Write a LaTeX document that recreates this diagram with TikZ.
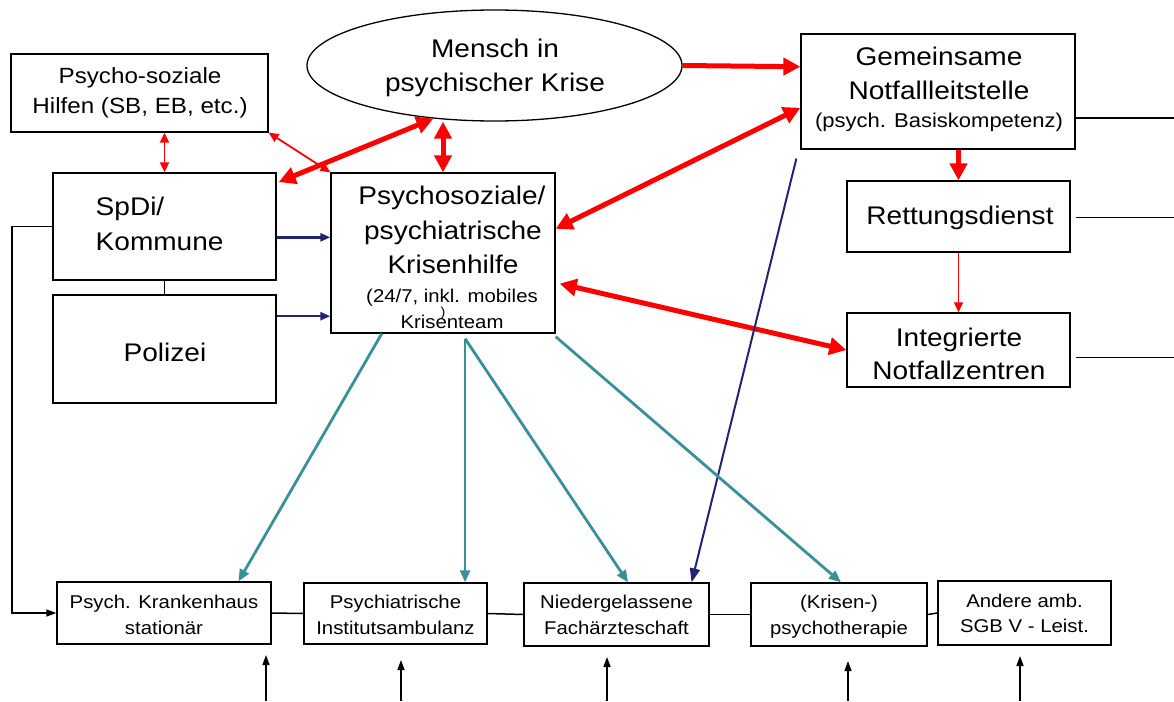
\documentclass[tikz,border=0pt]{standalone}
\usepackage{fontspec}
\setmainfont{Liberation Sans}[FakeStretch=1.1]
\usetikzlibrary{arrows.meta,calc,shapes.geometric}
\definecolor{navyc}{RGB}{35,35,115}
\definecolor{tealc}{RGB}{55,145,150}
\definecolor{redc}{RGB}{255,0,0}
\begin{document}
\begin{tikzpicture}[x=1pt,y=-1pt,
  box/.style={draw=black, line width=1.3pt, rectangle, inner sep=0pt},
  bigtxt/.style={font=\fontsize{25.5}{30}\selectfont, anchor=base, inner sep=0pt},
  midtxt/.style={font=\fontsize{22}{26}\selectfont, anchor=base, inner sep=0pt},
  smalltxt/.style={font=\fontsize{20}{24}\selectfont, anchor=base, inner sep=0pt},
  krtxt/.style={font=\fontsize{18.5}{22}\selectfont, anchor=base, inner sep=0pt},
  bottxt/.style={font=\fontsize{18.5}{22}\selectfont, anchor=base, inner sep=0pt},
  redthick/.style={draw=redc, line width=5pt, arrows={-Triangle[length=17pt,width=17pt]}},
  redthickdbl/.style={draw=redc, line width=5pt, arrows={Triangle[length=17pt,width=17pt]-Triangle[length=17pt,width=17pt]}},
  redthin/.style={draw=redc, line width=1.8pt, arrows={-Triangle[length=10pt,width=9pt]}},
  redthindbl/.style={draw=redc, line width=1.8pt, arrows={Triangle[length=10pt,width=9pt]-Triangle[length=10pt,width=9pt]}},
  navyarr/.style={draw=navyc, line width=2.4pt, arrows={-Triangle[length=10pt,width=8pt]}},
  navylong/.style={draw=navyc, line width=2pt, arrows={-Triangle[length=14pt,width=10pt]}},
  tealarr/.style={draw=tealc, line width=2.8pt, arrows={-Triangle[length=12pt,width=10pt]}},
  blk/.style={draw=black, line width=1.5pt},
  blkarr/.style={draw=black, line width=1.5pt, arrows={-Triangle[length=10pt,width=7pt]}}
]
\useasboundingbox (0,0) rectangle (1174,701);

% ---------- boxes ----------
\node[box, minimum width=257pt, minimum height=78pt] (hilfen) at (139.5,93) {};
\node[draw=black, line width=1.3pt, ellipse, inner sep=0pt, minimum width=375pt, minimum height=111pt] (mensch) at (494.5,65.5) {};
\node[box, minimum width=274pt, minimum height=115pt] (leit) at (938,91.5) {};
\node[box, minimum width=223pt, minimum height=71pt] (rett) at (958.5,216.5) {};
\node[box, minimum width=223pt, minimum height=74pt] (integ) at (958.5,350) {};
\node[box, minimum width=223pt, minimum height=107pt] (spdi) at (164.5,226.5) {};
\node[box, minimum width=223pt, minimum height=108pt] (polizei) at (164.5,349) {};
\node[box, minimum width=224pt, minimum height=160pt] (krise) at (443,253) {};
\node[box, minimum width=214pt, minimum height=62pt] (b1) at (164,613) {};
\node[box, minimum width=183pt, minimum height=61pt] (b2) at (395.5,613.5) {};
\node[box, minimum width=185pt, minimum height=63pt] (b3) at (616.5,614.5) {};
\node[box, minimum width=176pt, minimum height=63pt] (b4) at (839,614.5) {};
\node[box, minimum width=173pt, minimum height=64pt] (b5) at (1024.5,613) {};

% ---------- texts ----------
\node[midtxt] (th1) at (140,83) {Psycho-soziale};
\node[midtxt] (th2) at (140,113) {Hilfen (SB, EB, etc.)};
\node[bigtxt] (tm1) at (495,58) {Mensch in};
\node[bigtxt] (tm2) at (495,91) {psychischer Krise};
\node[bigtxt] (tl1) at (939,65) {Gemeinsame};
\node[bigtxt] (tl2) at (939,99) {Notfallleitstelle};
\node[smalltxt] (tl3) at (939,127) {(psych. Basiskompetenz)};
\node[bigtxt] (tr1) at (960,224) {Rettungsdienst};
\node[bigtxt] (ti1) at (959,346) {Integrierte};
\node[bigtxt] (ti2) at (959,379) {Notfallzentren};
\node[bigtxt, anchor=base west] (ts1) at (95.5,215) {SpDi/};
\node[bigtxt, anchor=base west] (ts2) at (95.5,250) {Kommune};
\node[bigtxt] (tp1) at (165,361) {Polizei};
\node[bigtxt] (tk1) at (452,204) {Psychosoziale/};
\node[bigtxt] (tk2) at (453,239) {psychiatrische};
\node[bigtxt] (tk3) at (453,273) {Krisenhilfe};
\node[krtxt] (tk4) at (452,302) {(24/7, inkl. mobiles};
\node[krtxt] (tk5) at (452,328) {Krisenteam};
\node[font=\fontsize{13}{15}\selectfont, anchor=base, inner sep=0pt] (tk6) at (443,316) {)};
\node[bottxt] (tb11) at (164,608) {Psych. Krankenhaus};
\node[bottxt] (tb12) at (164,634) {stationär};
\node[bottxt] (tb21) at (395.5,608) {Psychiatrische};
\node[bottxt] (tb22) at (395.5,634) {Institutsambulanz};
\node[bottxt] (tb31) at (616.5,608) {Niedergelassene};
\node[bottxt] (tb32) at (616.5,634) {Fachärzteschaft};
\node[bottxt] (tb41) at (839,608) {(Krisen-)};
\node[bottxt] (tb42) at (839,634) {psychotherapie};
\node[bottxt] (tb51) at (1024.5,607) {Andere amb.};
\node[bottxt] (tb52) at (1024.5,632) {SGB V - Leist.};

% ---------- helper coordinates ----------
\coordinate (rightedge) at (1174,0);
\coordinate (leftx) at (12,0);
\coordinate (navystart) at ($(leit.south west)+(-4,9)$);
\coordinate (u1s) at (266,701); \coordinate (u1e) at (266,655);
\coordinate (u2s) at (401,701); \coordinate (u2e) at (401,660);
\coordinate (u3s) at (607,701); \coordinate (u3e) at (607,657);
\coordinate (u4s) at (848,701); \coordinate (u4e) at (848,661);
\coordinate (u5s) at (1020,701); \coordinate (u5e) at (1020,656);

% ---------- red connectors ----------
\draw[redthick] (mensch.east) -- ($(leit.north west)!0.287!(leit.south west)$);
\draw[redthickdbl] ($(leit.north west)!0.64!(leit.south west)$) -- ($(krise.north east)!0.35!(krise.south east)$);
\draw[redthickdbl] ($(krise.north east)!0.69!(krise.south east)+(4,0)$) -- (integ.west);
\draw[redthickdbl] (mensch.221) -- ($(spdi.north east)!0.09!(spdi.south east)+(2,0)$);
\draw[redthickdbl] (krise.north |- mensch.south) -- (krise.north);
\draw[redthindbl] (spdi.north |- hilfen.south) -- (spdi.north);
\draw[redthindbl] (hilfen.south east) -- (krise.north west);
\draw[redthick] (rett.north |- leit.south) -- (rett.north);
\draw[redthin, line width=1.2pt] (rett.south) -- (integ.north);

% ---------- navy connectors ----------
\coordinate (sp1) at ($(spdi.north east)!0.6!(spdi.south east)$);
\coordinate (po1) at ($(polizei.north east)!0.2!(polizei.south east)$);
\draw[navyarr] (sp1) -- (sp1 -| krise.west);
\draw[navyarr] (po1) -- (po1 -| krise.west);
\draw[navylong] (navystart) -- ($(b3.north west)!0.903!(b3.north east)$);

% ---------- teal connectors ----------
\draw[tealarr] ($(krise.south west)!0.228!(krise.south east)$) -- ($(b1.north west)!0.846!(b1.north east)$);
\coordinate (kt) at ($(krise.south west)!0.598!(krise.south east)+(0,5)$);
\draw[tealarr] (kt) -- (kt |- b2.north);
\draw[tealarr] (kt) -- ($(b3.north west)!0.562!(b3.north east)$);
\draw[tealarr] ($(krise.south east)+(0,3)$) -- ($(b4.north west)!0.511!(b4.north east)$);

% ---------- black connectors ----------
\coordinate (le1) at ($(leit.north east)!0.73!(leit.south east)$);
\draw[blk] (le1) -- (le1 -| rightedge);
\draw[blk] ($(rett.east)+(5,1)$) -- ($(rett.east -| rightedge)+(0,1)$);
\coordinate (ie1) at ($(integ.north east)!0.6!(integ.south east)+(5,0)$);
\draw[blk] (ie1) -- (ie1 -| rightedge);
\draw[blk] (spdi.south) -- (polizei.north);
\draw[blkarr] (spdi.west) -- (spdi.west -| leftx) -- (b1.west -| leftx) -- (b1.west);
\draw[blk] (b1.east) -- (b2.west);
\draw[blk] (b2.east) -- (b3.west);
\draw[blk] (b3.east) -- (b4.west);
\draw[blk] (b4.east) -- (b5.west);
\draw[blkarr] (u1s) -- (u1e);
\draw[blkarr] (u2s) -- (u2e);
\draw[blkarr] (u3s) -- (u3e);
\draw[blkarr] (u4s) -- (u4e);
\draw[blkarr] (u5s) -- (u5e);
\end{tikzpicture}
\end{document}
